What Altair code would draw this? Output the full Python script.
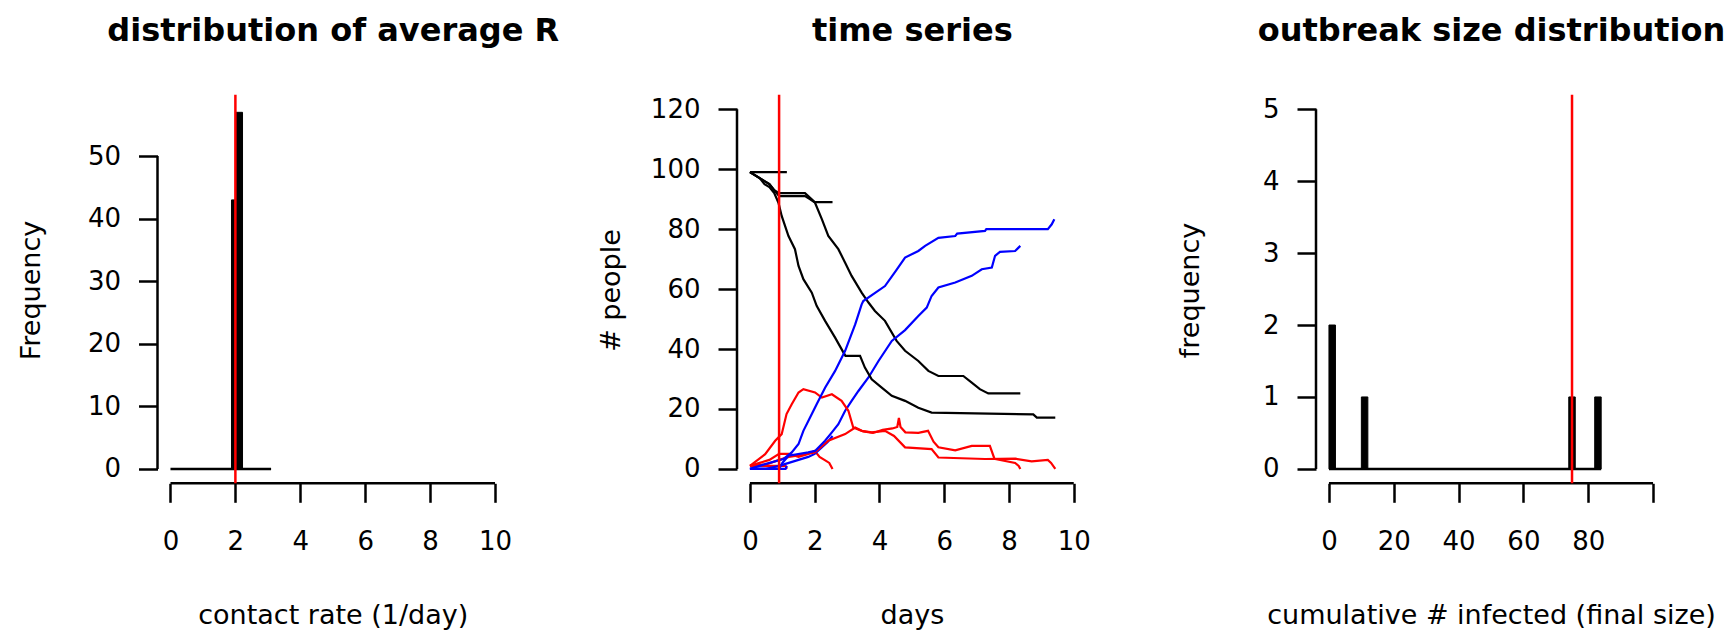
import altair as alt
import pandas as pd

# ---------------- data ----------------
# panel 1: histogram of average R
r_bin_lo = [1.88, 2.02]
r_bin_hi = [2.02, 2.22]
r_counts = [43, 57]
r_hist_span = [0, 3.1]
r_mean_line = 2.0
p1_xticks = [0, 2, 4, 6, 8, 10]
p1_yticks = [0, 10, 20, 30, 40, 50]

# panel 3: outbreak size histogram
size_bin_lo = [0, 10, 74, 82]
size_bin_hi = [2, 12, 76, 84]
size_counts = [2, 1, 1, 1]
size_hist_span = [0, 84]
size_mean_line = 75
p3_xticks = [0, 20, 40, 60, 80, 100]
p3_yticks = [0, 1, 2, 3, 4, 5]

# panel 2: time series (S black, I red, R blue), four runs
p2_xticks = [0, 2, 4, 6, 8, 10]
p2_yticks = [0, 20, 40, 60, 80, 100, 120]
p2_mark_line = 0.9

sA_day = [0, 1.14]
sA_val = [99, 99]
iA_day = [0, 1.1, 1.14]
iA_val = [1, 1, 0]
rA_day = [0, 1.1, 1.14]
rA_val = [0, 0, 1]

sB_day = [0, 0.15, 0.3, 0.45, 0.6, 0.75, 0.9, 1.7, 1.8, 1.9, 2.0, 2.55]
sB_val = [99, 98, 97, 96, 95, 93, 92, 92, 91, 90, 89, 89]
iB_day = [0, 0.3, 0.6, 0.9, 1.2, 1.5, 1.8, 2.0, 2.15, 2.3, 2.45, 2.55]
iB_val = [1, 2, 3, 5, 5, 4, 5, 6, 4, 3, 2, 0]
rB_day = [0, 0.5, 0.9, 1.2, 1.5, 1.8, 2.0, 2.2, 2.4, 2.55]
rB_val = [0, 0, 1, 2, 3, 4, 5, 7, 9, 11]

sC_day = [0, 0.15, 0.3, 0.45, 0.6, 0.75, 0.9, 1.7, 1.85, 2.01, 2.22, 2.42, 2.73,
          2.94, 3.14, 3.45, 3.66, 3.86, 4.17, 4.53, 4.79, 5.2, 5.51, 5.82, 6.59,
          6.85, 7.1, 7.36, 8.35]
sC_val = [99, 98, 97, 96, 95, 93, 91, 91, 90, 88.8, 83.3, 77.7, 73.3,
          68.8, 64.4, 58.8, 55.5, 52.7, 49.4, 42.7, 39.4, 36, 32.7, 31, 31,
          28.8, 26.6, 25.2, 25.2]
iC_day = [0, 0.5, 0.9, 1.2, 1.5, 2.0, 2.42, 2.94, 3.25, 3.5, 3.8, 4.1, 4.4, 4.55,
          4.6, 4.65, 4.8, 5.2, 5.5, 5.67, 5.82, 6.34, 6.85, 7.41, 7.55, 8.19, 8.3, 8.35]
iC_val = [1, 1.5, 3, 4, 4.5, 5.5, 9.4, 11.6, 13.8, 12.5, 12, 13, 13.5, 14,
          17, 14, 12.2, 12, 12.7, 9.1, 7.2, 6.2, 7.7, 7.7, 3.4, 2.0, 1, 0]
rC_day = [0, 0.9, 1.0, 1.19, 1.8, 2.01, 2.32, 2.53, 2.73, 2.94, 3.14, 3.35, 3.66,
          3.97, 4.38, 4.79, 5.2, 5.46, 5.61, 5.82, 6.34, 6.85, 7.16, 7.47, 7.57,
          7.72, 8.19, 8.35]
rC_val = [0, 0, 2, 4.4, 5.5, 6.0, 9.4, 12.2, 14.9, 19.4, 22.7, 26.0, 30.5,
          36.0, 42.7, 46.3, 51, 53.8, 57.7, 60.5, 62.2, 64.4, 66.6, 67.2, 71.1,
          72.4, 72.7, 74.4]

sD_day = [0, 0.15, 0.3, 0.45, 0.6, 0.75, 0.88, 0.98, 1.19, 1.39, 1.5, 1.65, 1.91,
          2.06, 2.32, 2.63, 2.89, 2.95, 3.40, 3.55, 3.76, 4.07, 4.38, 4.79, 5.2,
          5.61, 8.75, 8.86, 9.43]
sD_val = [99, 98, 97, 95, 94, 92, 88.8, 84.4, 77.7, 73.3, 67.7, 63.3, 58.8,
          54.4, 49.4, 43.8, 38.8, 37.7, 37.7, 33.8, 29.9, 27.1, 24.4, 22.7, 20.4,
          18.8, 18.2, 17.1, 17.1]
iD_day = [0, 0.47, 0.78, 0.98, 1.13, 1.29, 1.5, 1.65, 2.01, 2.22, 2.53, 2.83, 3.04,
          3.19, 3.45, 3.76, 4.17, 4.45, 4.79, 5.61, 5.82, 7.26, 8.2, 8.7, 9.2, 9.3, 9.43]
iD_val = [1, 4.9, 9.4, 11.6, 18.3, 21.6, 25.5, 26.6, 25.5, 23.8, 24.9, 22.7, 19.4,
          13.8, 12.7, 12.2, 12.7, 11, 7.2, 6.6, 3.8, 3.3, 3.4, 2.5, 3, 2, 0]
rD_day = [0, 0.47, 1.03, 1.29, 1.5, 1.65, 1.86, 2.06, 2.32, 2.63, 2.94, 3.25, 3.45,
          3.5, 4.17, 4.5, 4.79, 5.2, 5.41, 5.82, 6.34, 6.4, 7.26, 7.3, 9.2, 9.32, 9.4]
rD_val = [0, 1.6, 3.3, 5.5, 8.3, 12.7, 17.2, 21.6, 27.1, 32.7, 39.4, 48.2, 54.9,
          56, 61, 66, 70.5, 72.7, 74.4, 77.1, 77.7, 78.5, 79.4, 80, 80, 81.6, 83.3]

# ---------------- layout ----------------
W, H = 1726, 633
FONT = "DejaVu Sans"
Y_RANGE = [483.3, 94.8]
P1_XD, P1_XR, P1_YD = [-0.4, 10.4], [157.5, 508], [-2.3, 59.8]
P2_XD, P2_XR, P2_YD = [-0.4, 10.4], [737, 1086.7], [-4.8, 124.8]
P3_XD, P3_XR, P3_YD = [-4, 104], [1316, 1666], [-0.2, 5.2]


def sc(domain, rng):
    return alt.Scale(domain=domain, range=rng, nice=False, zero=False)


def bottom_axis(values, title, center, label_expr=None):
    kw = dict(orient="bottom", offset=Y_RANGE[0] - H, values=values, domain=False,
              grid=False, ticks=True, tickSize=19, tickWidth=2.5, tickColor="black",
              labelFont=FONT, labelFontSize=26, labelColor="black", labelPadding=26,
              labelFlush=False, labelOverlap=False, labelBaseline="top",
              labelAlign="center", title=title, titleX=center,
              titleY=615 - Y_RANGE[0], titleFont=FONT, titleFontSize=27,
              titleFontWeight="normal", titleColor="black", titleBaseline="middle",
              titleAlign="center", titleAngle=0)
    if label_expr:
        kw["labelExpr"] = label_expr
    return alt.Axis(**kw)


def left_axis(values, title, left):
    return alt.Axis(orient="left", offset=-left, values=values, domain=False,
                    grid=False, ticks=True, tickSize=19, tickWidth=2.5,
                    tickColor="black", labelFont=FONT, labelFontSize=26,
                    labelColor="black", labelPadding=18, labelFlush=False,
                    labelOverlap=False, labelAlign="right", labelBaseline="middle",
                    title=title, titleX=-126, titleY=290, titleFont=FONT,
                    titleFontSize=27, titleFontWeight="normal", titleColor="black",
                    titleAngle=270, titleAlign="center", titleBaseline="middle")


def top_title(title, center):
    return alt.Axis(orient="top", offset=0, labels=False, ticks=False, domain=False,
                    grid=False, title=title, titleX=center, titleY=40, titleFont=FONT,
                    titleFontSize=32, titleFontWeight="bold", titleColor="black",
                    titleAlign="center", titleBaseline="alphabetic", titleAngle=0)


def rules(df, xd, xr, yd, color, width, xaxis=None):
    return alt.Chart(df).mark_rule(color=color, strokeWidth=width).encode(
        x=alt.X("x:Q", scale=sc(xd, xr), axis=xaxis),
        x2="x2:Q",
        y=alt.Y("y:Q", scale=sc(yd, Y_RANGE), axis=None),
        y2="y2:Q",
    )


def axis_lines(xticks, yticks, xd, yd):
    return pd.DataFrame({
        "x": [xticks[0], xd[0]],
        "x2": [xticks[-1], xd[0]],
        "y": [yd[0], yticks[0]],
        "y2": [yd[0], yticks[-1]],
    })


def vline(xv, yd):
    return pd.DataFrame({"x": [xv], "x2": [xv], "y": [yd[0]], "y2": [yd[1]]})


def hist_layer(lo, hi, counts, xd, xr, yd, xaxis, yaxis):
    df = pd.DataFrame({"lo": lo, "hi": hi, "zero": [0] * len(lo), "n": counts})
    return alt.Chart(df).mark_rect(color="black", stroke="black", strokeWidth=1).encode(
        x=alt.X("lo:Q", scale=sc(xd, xr), axis=xaxis),
        x2="hi:Q",
        y=alt.Y("zero:Q", scale=sc(yd, Y_RANGE), axis=yaxis),
        y2="n:Q",
    )


c1 = (P1_XR[0] + P1_XR[1]) / 2
c2 = (P2_XR[0] + P2_XR[1]) / 2
c3 = (P3_XR[0] + P3_XR[1]) / 2

layers = []

# ---- panel 1 ----
layers.append(hist_layer(r_bin_lo, r_bin_hi, r_counts, P1_XD, P1_XR, P1_YD,
                         bottom_axis(p1_xticks, "contact rate (1/day)", c1),
                         left_axis(p1_yticks, "Frequency", P1_XR[0])))
layers.append(rules(pd.DataFrame({"x": [r_hist_span[0]], "x2": [r_hist_span[1]],
                                  "y": [0], "y2": [0]}),
                    P1_XD, P1_XR, P1_YD, "black", 2.5))
layers.append(rules(axis_lines(p1_xticks, p1_yticks, P1_XD, P1_YD),
                    P1_XD, P1_XR, P1_YD, "black", 2.5))
layers.append(rules(vline(r_mean_line, P1_YD), P1_XD, P1_XR, P1_YD, "#FF0000", 2.5,
                    top_title("distribution of average R", c1)))

# ---- panel 2 ----
series = [
    ("A", "S", sA_day, sA_val), ("A", "I", iA_day, iA_val), ("A", "R", rA_day, rA_val),
    ("B", "S", sB_day, sB_val), ("B", "I", iB_day, iB_val), ("B", "R", rB_day, rB_val),
    ("C", "S", sC_day, sC_val), ("C", "I", iC_day, iC_val), ("C", "R", rC_day, rC_val),
    ("D", "S", sD_day, sD_val), ("D", "I", iD_day, iD_val), ("D", "R", rD_day, rD_val),
]
rows = []
for run, var, days, vals in series:
    for k, (d, v) in enumerate(zip(days, vals)):
        rows.append({"key": run + var, "var": var, "day": d, "val": v, "ord": k})
ts = pd.DataFrame(rows)

layers.append(alt.Chart(ts).mark_line(strokeWidth=2.2).encode(
    x=alt.X("day:Q", scale=sc(P2_XD, P2_XR), axis=bottom_axis(p2_xticks, "days", c2)),
    y=alt.Y("val:Q", scale=sc(P2_YD, Y_RANGE), axis=left_axis(p2_yticks, "# people", P2_XR[0])),
    color=alt.Color("var:N", scale=alt.Scale(domain=["S", "I", "R"],
                                             range=["#000000", "#FF0000", "#0000FF"]),
                    legend=None),
    detail="key:N",
    order="ord:Q",
))
layers.append(rules(axis_lines(p2_xticks, p2_yticks, P2_XD, P2_YD),
                    P2_XD, P2_XR, P2_YD, "black", 2.5))
layers.append(rules(vline(p2_mark_line, P2_YD), P2_XD, P2_XR, P2_YD, "#FF0000", 2.5,
                    top_title("time series", c2)))

# ---- panel 3 ----
layers.append(hist_layer(size_bin_lo, size_bin_hi, size_counts, P3_XD, P3_XR, P3_YD,
                         bottom_axis(p3_xticks, "cumulative # infected (final size)", c3,
                                     "datum.value == 100 ? '' : datum.label"),
                         left_axis(p3_yticks, "frequency", P3_XR[0])))
layers.append(rules(pd.DataFrame({"x": [size_hist_span[0]], "x2": [size_hist_span[1]],
                                  "y": [0], "y2": [0]}),
                    P3_XD, P3_XR, P3_YD, "black", 2.5))
layers.append(rules(axis_lines(p3_xticks, p3_yticks, P3_XD, P3_YD),
                    P3_XD, P3_XR, P3_YD, "black", 2.5))
layers.append(rules(vline(size_mean_line, P3_YD), P3_XD, P3_XR, P3_YD, "#FF0000", 2.5,
                    top_title("outbreak size distribution", c3)))

chart = (
    alt.layer(*layers)
    .resolve_scale(x="independent", y="independent")
    .properties(width=W, height=H, padding=0, background="white",
                autosize=alt.AutoSizeParams(type="none"))
    .configure_view(stroke=None)
)

chart.save("out.html", embed_options={"renderer": "svg", "actions": False})
